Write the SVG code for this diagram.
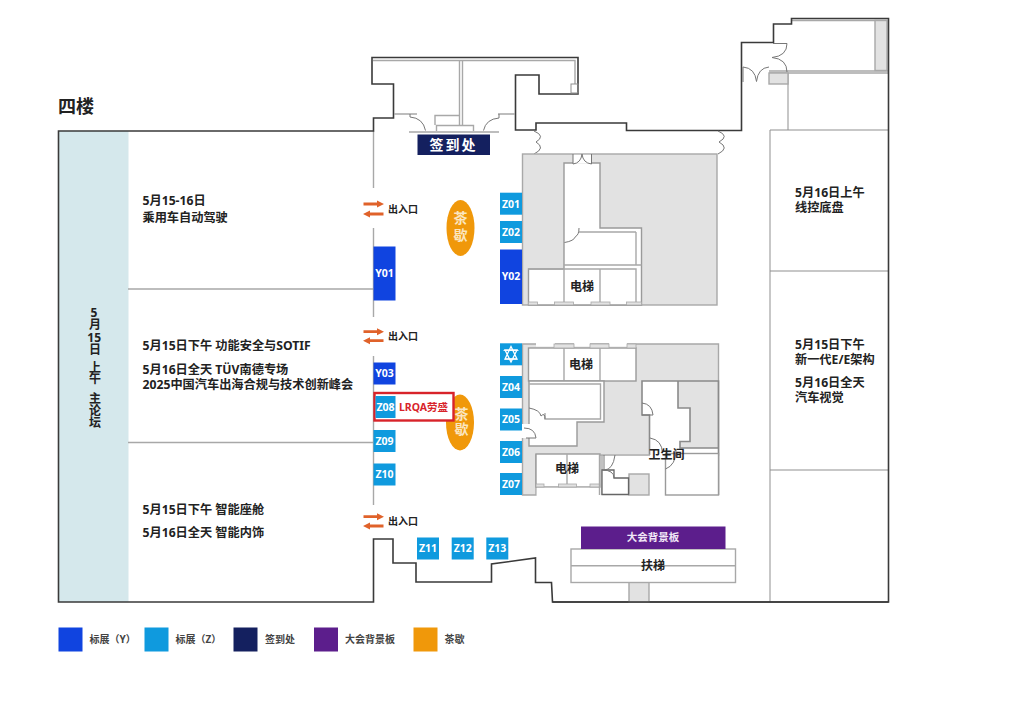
<svg xmlns="http://www.w3.org/2000/svg" width="1018" height="720" viewBox="0 0 1018 720">
<style>
text{font-family:"Noto Sans","Noto Sans CJK SC",sans-serif;font-weight:700;fill:#222}
.wall{fill:none;stroke:#3a3a3a;stroke-width:1.6}
.in{fill:none;stroke:#a8a8a8;stroke-width:1.4}
.dk{fill:none;stroke:#8a8a8a;stroke-width:1.6}
.thin{fill:none;stroke:#8f8f8f;stroke-width:1}
.door{fill:none;stroke:#777;stroke-width:1}
.core{fill:#e2e2e2;stroke:#a8a8a8;stroke-width:1.4}
.room{fill:#fff;stroke:#9a9a9a;stroke-width:1.4}
.pad{fill:#e2e2e2;stroke:#a8a8a8;stroke-width:.8}
.y{fill:#1044e0}.z{fill:#0f9ade}
.bt{fill:#fff;font-size:10.500px;text-anchor:middle}
.lb{font-size:12.200px}
.cl{font-size:12px;text-anchor:middle}
.vert{font-size:12px;writing-mode:vertical-rl;text-orientation:upright}
.ex{font-size:10px}
.lg{font-size:10px;fill:#444}
.arr{fill:none;stroke:#e0622a;stroke-width:2.800}
.ah{fill:#e0622a}
.tea{fill:#f0980a}
.teat{fill:#fbe6c0;font-size:14px;text-anchor:middle}
.teav{fill:#fbe6c0;font-size:14px;letter-spacing:1px;writing-mode:vertical-rl;text-orientation:upright}
</style>
<rect width="1018" height="720" fill="#fff"/>
<text x="58" y="113" style="font-size:18px">四楼</text>

<g id="floorplan">
<rect x="58.500" y="131" width="70" height="471" fill="#d5e8ec"/>
<path class="in" d="M128 289H373M128 442.500H373"/>
<path class="in" d="M373.500 131V188M373.500 228V317M373.500 356V505"/>
<path class="thin" d="M770 130V602M770 130H889M770 271H889M770 470H889M788 73V130"/>
<path class="in" d="M769 71H888M769 73H888M792 20.500H887"/>
<rect class="core" x="875" y="20.500" width="12" height="50"/>
<rect class="core" x="769" y="73" width="19" height="11"/>
<path class="wall" d="M58.500 131H373.500V118H393.500V84H372V57.500H578V94H539V75H515.500V130H536V123H626.500V130.500H741.500V42.500H773.500V24H791.500V18.500H888.500V602H552.500L551.500 582.500H535.500V558L491.500 564V582H416V563H393V539H373.500V602H58.500Z"/>
<path class="in" d="M373 60.500H575V84M459.500 60.500V125M462.500 60.500V125M515 114H498M394 114H417M409 132H499"/>
<rect class="thin" x="571" y="84" width="7" height="9"/>
<path class="in" d="M435 125V115.500H460M436.500 131V125.500H473.500V131"/>
<g id="doors" class="door">
<path d="M410 117V114M410 117Q423 118 425.500 130.500"/>
<path d="M499 118V114M499 118Q486 119 483.500 130.500"/>
<path d="M534 131Q546 136 536 142Q546 148 534 154"/>
<path d="M718 131Q730 136 719 142Q730 148 718 154"/>
<path d="M743 82V67Q755 68 756.500 81.500Q758 68 769 67"/>
<path d="M773 43.500H787Q787 56 772 57.500Q787 59 787 72"/>
</g>

<g id="core-north">
<rect class="core" x="522.500" y="154" width="194.500" height="151"/>
<path class="room" d="M564 163H600V228H641.500V305H528.500V269H564Z"/>
<path class="in" d="M564 269V305M600 269V305M564 265H641.500M528.500 269H636V305M636 232H579M636 232V265"/>
<rect x="573" y="154.800" width="18.500" height="9" fill="#fff"/>
<path class="door" d="M573 164V154M591.500 164V154M573 164Q581 163 582 154Q583 163 591.500 164M564.500 242.500Q574 241 575.500 236.500Q579 235 579 228"/>
<rect class="pad" x="528.500" y="302" width="9" height="3"/><rect class="pad" x="554.500" y="302" width="19" height="3"/><rect class="pad" x="591" y="302" width="19" height="3"/><rect class="pad" x="626.500" y="302" width="15" height="3"/>
<text class="cl" x="582" y="290.500">电梯</text>
</g>

<g id="core-south">
<path class="core" d="M522.500 344H718.500V455H536V495H522.500Z"/>
<rect class="room" x="528.500" y="348" width="107.500" height="33"/>
<path class="in" d="M564 348V381M600 348V381"/>
<path d="M536 344.500H555M574 344.500H590M609 344.500H627" stroke="#fff" stroke-width="4" fill="none"/>
<rect class="pad" x="554" y="344" width="20" height="4"/><rect class="pad" x="590" y="344" width="19" height="4"/><rect class="pad" x="627" y="344" width="9" height="4"/>
<path class="room" d="M529 381H604V422H577V446H529Z"/>
<path class="in" d="M529 384H600.500V419H545V413"/>
<rect x="521" y="424" width="9" height="14" fill="#fff"/>
<rect class="room" x="536" y="454" width="64" height="33"/>
<rect x="536.800" y="487.800" width="62.500" height="8" fill="#fff"/>
<path class="in" d="M567 454V487"/>
<rect class="pad" x="536" y="484" width="8" height="3"/><rect class="pad" x="558.500" y="484" width="18" height="3"/><rect class="pad" x="590" y="484" width="10" height="3"/>
<path d="M642 381H678V408H690V441.500H680V448H718.500V455H650V415H642Z" fill="#fff"/>
<rect x="600.800" y="454" width="64.200" height="41" fill="#fff"/>
<path class="dk" d="M649.500 455V415H642V381H678V408H690V441.500H680V448H718.500M678 381H718.500V495"/>
<path class="in" d="M602 455V495M599.500 455V495M600 455H650"/>
<rect class="room" x="665.500" y="453.500" width="53" height="41.500"/>
<rect class="core" x="629" y="474" width="20" height="21"/>
<path d="M602 470H614V478H628.500V494.500H602Z" fill="#fff" stroke="#666" stroke-width="1.300"/>
<path class="door" d="M529 408Q540 410 541 416Q545 412 545 419M524 428Q535 428 536 438H526M642 403Q652 404 653 415H642M650 438Q662 440 662.500 453M676 450Q676 465 665.500 469M604 455V470Q613 470 615 455M614 478Q614 470 602 470"/>
<text class="cl" x="581" y="368.500">电梯</text>
<text class="cl" x="567" y="472.500">电梯</text>
<text class="cl" x="666.500" y="459">卫生间</text>
</g>

<g id="escalator">
<rect class="core" x="629" y="582" width="20" height="20"/>
<rect x="571" y="549" width="164.500" height="33.500" fill="#fff" stroke="#a8a8a8" stroke-width="1.400"/>
<path class="in" d="M571 565.700H735.500"/>
<text class="cl" x="653" y="569.500">扶梯</text>
</g>
<path class="wall" d="M552.500 602H888.500"/>
</g>

<g id="sign-in">
<rect x="417.500" y="134.500" width="72.500" height="20.500" fill="#14205f"/>
<text x="453.500" y="150" text-anchor="middle" style="fill:#fff;font-size:14px;letter-spacing:2px">签到处</text>
</g>

<g id="backdrop">
<rect x="581" y="526.500" width="144.500" height="22.500" fill="#5c1e8c"/>
<text x="653" y="541" text-anchor="middle" style="fill:#f0e6f6;font-size:10.500px">大会背景板</text>
</g>

<g id="tea-1"><ellipse class="tea" cx="460.500" cy="228" rx="14" ry="28"/><text class="teat" x="460.500" y="223">茶</text><text class="teat" x="460.500" y="240">歇</text></g>
<g id="tea-2"><ellipse class="tea" cx="460" cy="422.500" rx="14" ry="28"/></g>

<g id="booth-y01"><rect class="y" x="373.500" y="246.500" width="22" height="54"/><text class="bt" x="384.500" y="277">Y01</text></g>
<g id="booth-y02"><rect class="y" x="500" y="249.500" width="22" height="54.500"/><text class="bt" x="511" y="279.500">Y02</text></g>
<g id="booth-y03"><rect class="y" x="373.500" y="362.500" width="22" height="22"/><text class="bt" x="384.500" y="377">Y03</text></g>
<g id="booth-z01"><rect class="z" x="500" y="192.700" width="22" height="22"/><text class="bt" x="511" y="207.500">Z01</text></g>
<g id="booth-z02"><rect class="z" x="500" y="221" width="22" height="22"/><text class="bt" x="511" y="236">Z02</text></g>
<g id="booth-z03"><rect class="z" x="500" y="343.300" width="22" height="22"/><path d="M511 346.500L517 359H505ZM511 362L505 350H517Z" fill="none" stroke="#fff" stroke-width="1.300"/><path d="M503.500 350.500H518.500M505 359H517" stroke="#fff" stroke-width=".9"/></g>
<g id="booth-z04"><rect class="z" x="500" y="376" width="22" height="22"/><text class="bt" x="511" y="390.500">Z04</text></g>
<g id="booth-z05"><rect class="z" x="500" y="408.500" width="22" height="22"/><text class="bt" x="511" y="423">Z05</text></g>
<g id="booth-z06"><rect class="z" x="500" y="441" width="22" height="22"/><text class="bt" x="511" y="455.500">Z06</text></g>
<g id="booth-z07"><rect class="z" x="500" y="473" width="22" height="22"/><text class="bt" x="511" y="487.500">Z07</text></g>
<g id="booth-z08">
<rect x="374.500" y="393" width="79" height="27.500" fill="#fff" stroke="#d8232a" stroke-width="2.400"/>
<rect class="z" x="375.500" y="396" width="20" height="22"/>
<text class="bt" x="385.500" y="410.500">Z08</text>
<text x="399" y="411" style="fill:#d8232a;font-size:10.500px">LRQA劳盛</text>
</g>
<text class="teav" x="461" y="407">茶歇</text>
<g id="booth-z09"><rect class="z" x="373.500" y="430" width="22" height="22"/><text class="bt" x="384.500" y="444.500">Z09</text></g>
<g id="booth-z10"><rect class="z" x="373.500" y="463.500" width="22" height="22"/><text class="bt" x="384.500" y="478">Z10</text></g>
<g id="booth-z11"><rect class="z" x="417" y="537.500" width="22" height="22"/><text class="bt" x="428" y="552">Z11</text></g>
<g id="booth-z12"><rect class="z" x="451.700" y="537.500" width="22" height="22"/><text class="bt" x="462.700" y="552">Z12</text></g>
<g id="booth-z13"><rect class="z" x="486.300" y="537.500" width="22" height="22"/><text class="bt" x="497.300" y="552">Z13</text></g>

<g id="connectors">
<path class="arr" d="M363.500 204H379M368 214H383.500M363.500 331.700H379M368 340.700H383.500M363.500 516.700H379M368 526H383.500"/>
<path class="ah" d="M384 204L377 200.500V207.500ZM363 214L370 210.500V217.500ZM384 331.700L377 328.200V335.200ZM363 340.700L370 337.200V344.200ZM384 516.700L377 513.200V520.200ZM363 526L370 522.500V529.500Z"/>
</g>
<text class="ex" x="388" y="212.500">出入口</text>
<text class="ex" x="388" y="339.500">出入口</text>
<text class="ex" x="388" y="524.500">出入口</text>

<g id="labels">
<text class="lb" x="142.500" y="205">5月15-16日</text>
<text class="lb" x="142.500" y="221.500">乘用车自动驾驶</text>
<text class="lb" x="142.500" y="350">5月15日下午 功能安全与SOTIF</text>
<text class="lb" x="142.500" y="373.500">5月16日全天 TÜV南德专场</text>
<text class="lb" x="142.500" y="388.500">2025中国汽车出海合规与技术创新峰会</text>
<text class="lb" x="142.500" y="513.500">5月15日下午 智能座舱</text>
<text class="lb" x="142.500" y="537">5月16日全天 智能内饰</text>
<text class="lb" x="795" y="197">5月16日上午</text>
<text class="lb" x="795" y="212">线控底盘</text>
<text class="lb" x="795" y="349">5月15日下午</text>
<text class="lb" x="795" y="364">新一代E/E架构</text>
<text class="lb" x="795" y="386.500">5月16日全天</text>
<text class="lb" x="795" y="401.500">汽车视觉</text>
<text class="vert"><tspan x="94" y="304.400">5</tspan><tspan x="94" y="318">月</tspan><tspan x="90.600 97.600" y="329.400 329.400">15</tspan><tspan x="94" y="343">日</tspan><tspan x="94" y="361.700">上</tspan><tspan x="94" y="372">午</tspan><tspan x="94" y="392">主论坛</tspan></text>
</g>

<g id="legend">
<rect class="y" x="58.500" y="627.500" width="24" height="24"/><text class="lg" x="89.500" y="643">标展（Y）</text>
<rect class="z" x="144.500" y="627.500" width="24" height="24"/><text class="lg" x="175.500" y="643">标展（Z）</text>
<rect x="233.500" y="627.500" width="24" height="24" fill="#14205f"/><text class="lg" x="265" y="643">签到处</text>
<rect x="314" y="627.500" width="24" height="24" fill="#5c1e8c"/><text class="lg" x="345" y="643">大会背景板</text>
<rect x="413.500" y="627.500" width="24" height="24" fill="#f0980a"/><text class="lg" x="444.500" y="643">茶歇</text>
</g>
</svg>
